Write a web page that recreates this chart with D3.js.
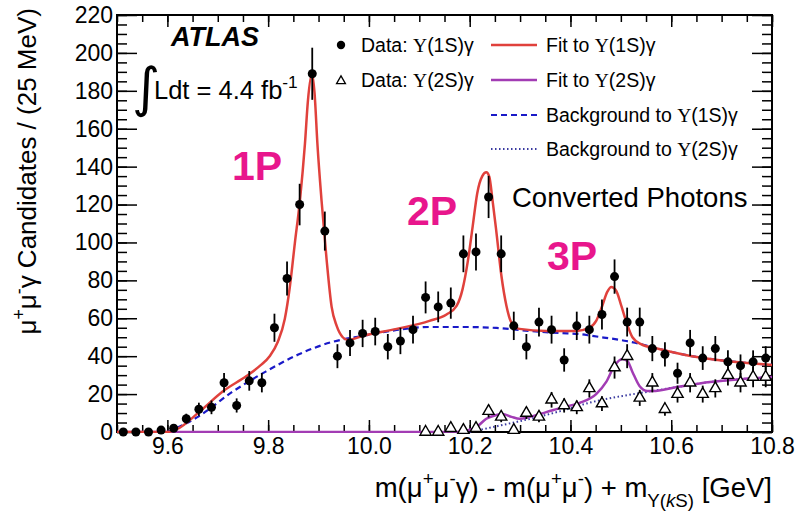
<!DOCTYPE html>
<html>
<head>
<meta charset="utf-8">
<script src="https://cdn.jsdelivr.net/npm/d3@7"></script>
<style>
  body { margin: 0; background: #fff; }
  svg { display: block; }
  text { font-family: "Liberation Sans", Arial, Helvetica, sans-serif; fill: #000; }
</style>
</head>
<body>
<div id="chart"></div>
<script>
// bin centres (25 MeV bins) and counts
var bins1S = [9.5125, 9.5375, 9.5625, 9.5875, 9.6125, 9.6375, 9.6625, 9.6875, 9.7125, 9.7375,
    9.7625, 9.7875, 9.8125, 9.8375, 9.8625, 9.8875, 9.9125, 9.9375, 9.9625, 9.9875,
    10.0125, 10.0375, 10.0625, 10.0875, 10.1125, 10.1375, 10.1625, 10.1875, 10.2125, 10.2375,
    10.2625, 10.2875, 10.3125, 10.3375, 10.3625, 10.3875, 10.4125, 10.4375, 10.4625, 10.4875,
    10.5125, 10.5375, 10.5625, 10.5875, 10.6125, 10.6375, 10.6625, 10.6875, 10.7125, 10.7375,
    10.7625, 10.7875];
var counts1S = [0, 0, 0, 1, 2, 7, 12, 13, 26, 14,
    27, 26, 55, 81, 120, 189, 106, 40, 47, 52,
    53, 45, 48, 54, 71, 66, 68, 94, 95, 124,
    94, 56, 45, 58, 54, 38, 56, 54, 62, 82,
    58, 58, 44, 41, 31, 47, 39, 44, 37, 35,
    37, 39];

var bins2S = [10.1125, 10.1375, 10.1625, 10.1875, 10.2125, 10.2375, 10.2625, 10.2875, 10.3125, 10.3375,
    10.3625, 10.3875, 10.4125, 10.4375, 10.4625, 10.4875, 10.5125, 10.5375, 10.5625, 10.5875,
    10.6125, 10.6375, 10.6625, 10.6875, 10.7125, 10.7375, 10.7625, 10.7875];
var counts2S = [0, 0, 2, 1, 2, 11, 8, 1, 10, 8,
    17, 14, 13, 23, 15, 34, 40, 18, 26, 12,
    20, 26, 20, 23, 30, 26, 29, 29];

// fit curves
var fit1S = [[9.5, 0], [9.6, 0], [9.619, 1.5], [9.665, 11], [9.711, 21.6], [9.757, 29.5], [9.784, 35],
    [9.803, 40], [9.819, 47.5], [9.833, 59.6], [9.843, 76.5], [9.853, 99.7], [9.863, 122], [9.873, 152],
    [9.879, 175], [9.887, 189], [9.892, 179], [9.898, 151], [9.906, 122], [9.916, 91], [9.926, 66],
    [9.936, 56], [9.948, 50], [9.958, 48.5], [9.988, 50.7], [10.055, 54.4], [10.12, 58.6], [10.154, 62],
    [10.174, 66.5], [10.186, 75.5], [10.196, 89.6], [10.206, 108.6], [10.215, 126], [10.225, 135],
    [10.233, 137], [10.239, 134.6], [10.245, 123], [10.253, 105.5], [10.263, 82.3], [10.273, 66.5],
    [10.283, 57.6], [10.299, 54.4], [10.352, 53.3], [10.412, 53.3], [10.437, 54.9], [10.451, 58.6],
    [10.463, 66.5], [10.473, 73.9], [10.481, 76.5], [10.491, 74.4], [10.501, 66.5], [10.511, 58],
    [10.523, 50], [10.54, 46.4], [10.576, 43.8], [10.641, 40], [10.709, 37.5], [10.8, 35.4]];
var bkg1S = [[9.601, 0], [9.663, 8.4], [9.728, 21], [9.796, 32], [9.861, 41], [9.927, 47.5],
    [9.988, 50.7], [10.055, 53.8], [10.12, 55.4], [10.186, 55.4], [10.253, 54.9], [10.319, 53.3],
    [10.378, 52.2], [10.418, 51.7], [10.443, 50.7], [10.511, 48], [10.54, 46.4], [10.576, 43.8],
    [10.641, 40], [10.709, 37.5], [10.8, 35.4]];
var fit2S = [[9.5, 0], [10.174, 0], [10.213, 2.6], [10.233, 7], [10.253, 9], [10.265, 9.5],
    [10.283, 8], [10.299, 7], [10.319, 8], [10.352, 10.5], [10.384, 13], [10.418, 15.3],
    [10.451, 20], [10.471, 26.4], [10.487, 34.8], [10.503, 38.5], [10.513, 37.5], [10.523, 31.7],
    [10.537, 24.3], [10.553, 21.6], [10.563, 21.6], [10.611, 23.7], [10.677, 26.4], [10.743, 28], [10.8, 29]];
var bkg2S = [[10.2, 0], [10.253, 3], [10.319, 6.9], [10.38, 11], [10.443, 15.8], [10.503, 19],
    [10.553, 21.2], [10.611, 23.7], [10.677, 26.4], [10.743, 28], [10.8, 29]];

var xMajor = [9.6, 9.8, 10.0, 10.2, 10.4, 10.6, 10.8];
var xLabels = ["9.6", "9.8", "10.0", "10.2", "10.4", "10.6", "10.8"];
var yMajor = [0, 20, 40, 60, 80, 100, 120, 140, 160, 180, 200, 220];

drawChart();

function drawChart() {
    var W = 800, H = 511;
    var pl = 117, pr = 772, pt = 15, pb = 432;

    var svg = d3.select("#chart").append("svg")
        .attr("width", W)
        .attr("height", H);

    var x = d3.scaleLinear().domain([9.5, 10.8]).range([pl, pr]);
    var y = d3.scaleLinear().domain([0, 220]).range([pb, pt]);

    var tickFont = 23;

    // text with sub/superscripts
    function rich(sel, parts, size) {
        var t = sel.append("text").attr("font-size", size);
        var shift = 0;
        parts.forEach(function (p) {
            var target = p.s === 1 ? -size * 0.42 : (p.s === -1 ? size * 0.35 : 0);
            t.append("tspan")
                .attr("dy", target - shift)
                .attr("font-size", p.s ? size * 0.68 : size)
                .attr("font-style", p.i ? "italic" : null)
                .style("font-family", p.f || null)
                .text(p.t);
            shift = target;
        });
        return t;
    }

    // axes (ticks point inward, ROOT style)
    function styleAxis(g) {
        g.select(".domain").remove();
        g.selectAll("line").attr("stroke", "#000").attr("stroke-width", 1.5);
        g.selectAll("text").attr("font-size", tickFont).style("font-family", "Liberation Sans, Arial, sans-serif");
    }

    var xMinor = d3.range(9.5, 10.801, 0.05);
    var yMinor = d3.range(0, 221, 5);

    svg.append("g")
        .attr("transform", "translate(0," + pb + ")")
        .call(d3.axisBottom(x).tickValues(xMinor).tickSize(-7).tickFormat(""))
        .call(styleAxis);
    svg.append("g")
        .attr("transform", "translate(0," + pb + ")")
        .call(d3.axisBottom(x).tickValues(xMajor).tickSize(-12).tickPadding(6)
            .tickFormat(function (d, i) { return xLabels[i]; }))
        .call(styleAxis);
    svg.append("g")
        .attr("transform", "translate(0," + pt + ")")
        .call(d3.axisTop(x).tickValues(xMinor).tickSize(-7).tickFormat(""))
        .call(styleAxis);
    svg.append("g")
        .attr("transform", "translate(0," + pt + ")")
        .call(d3.axisTop(x).tickValues(xMajor).tickSize(-12).tickFormat(""))
        .call(styleAxis);

    svg.append("g")
        .attr("transform", "translate(" + pl + ",0)")
        .call(d3.axisLeft(y).tickValues(yMinor).tickSize(-10).tickFormat(""))
        .call(styleAxis);
    svg.append("g")
        .attr("transform", "translate(" + pl + ",0)")
        .call(d3.axisLeft(y).tickValues(yMajor).tickSize(-20).tickPadding(4))
        .call(styleAxis);
    svg.append("g")
        .attr("transform", "translate(" + pr + ",0)")
        .call(d3.axisRight(y).tickValues(yMinor).tickSize(-10).tickFormat(""))
        .call(styleAxis);
    svg.append("g")
        .attr("transform", "translate(" + pr + ",0)")
        .call(d3.axisRight(y).tickValues(yMajor).tickSize(-20).tickFormat(""))
        .call(styleAxis);

    svg.append("rect")
        .attr("x", pl).attr("y", pt)
        .attr("width", pr - pl).attr("height", pb - pt)
        .attr("fill", "none").attr("stroke", "#000").attr("stroke-width", 2);

    // curves
    svg.append("clipPath").attr("id", "clip")
        .append("rect").attr("x", pl).attr("y", pt - 2)
        .attr("width", pr - pl).attr("height", pb - pt + 3);

    var line = d3.line()
        .x(function (d) { return x(d[0]); })
        .y(function (d) { return y(d[1]); })
        .curve(d3.curveMonotoneX);

    var curves = svg.append("g").attr("clip-path", "url(#clip)");
    curves.append("path").attr("d", line(bkg2S))
        .attr("fill", "none").attr("stroke", "#3a3aa0").attr("stroke-width", 2).attr("stroke-dasharray", "1.5,2.5");
    curves.append("path").attr("d", line(fit2S))
        .attr("fill", "none").attr("stroke", "#a23cb4").attr("stroke-width", 2.5);
    curves.append("path").attr("d", line(bkg1S))
        .attr("fill", "none").attr("stroke", "#1a1ac8").attr("stroke-width", 2.2).attr("stroke-dasharray", "6,4");
    curves.append("path").attr("d", line(fit1S))
        .attr("fill", "none").attr("stroke", "#e0413c").attr("stroke-width", 2.5);

    // data points with sqrt(N) error bars
    var pts1 = bins1S.map(function (b, i) { return {x: b, y: counts1S[i]}; });
    var pts2 = bins2S.map(function (b, i) { return {x: b, y: counts2S[i]}; });

    function errorBars(data) {
        svg.append("g").selectAll("line")
            .data(data.filter(function (d) { return d.y > 0; }))
            .enter().append("line")
            .attr("x1", function (d) { return x(d.x); })
            .attr("x2", function (d) { return x(d.x); })
            .attr("y1", function (d) { return y(d.y - Math.sqrt(d.y)); })
            .attr("y2", function (d) { return y(d.y + Math.sqrt(d.y)); })
            .attr("stroke", "#000").attr("stroke-width", 1.8);
    }
    errorBars(pts2);
    errorBars(pts1);

    var tri = d3.symbol().type(d3.symbolTriangle).size(55);
    svg.append("g").selectAll("path")
        .data(pts2)
        .enter().append("path")
        .attr("d", tri)
        .attr("transform", function (d) { return "translate(" + x(d.x) + "," + y(d.y) + ")"; })
        .attr("fill", "#fff").attr("stroke", "#000").attr("stroke-width", 1.4);

    svg.append("g").selectAll("circle")
        .data(pts1)
        .enter().append("circle")
        .attr("cx", function (d) { return x(d.x); })
        .attr("cy", function (d) { return y(d.y); })
        .attr("r", 4.5)
        .attr("fill", "#000");

    // legend
    var lg = svg.append("g");
    var legFont = 19.5;
    var ups = {t: "\u03A5", f: "Liberation Serif"};
    lg.append("circle").attr("cx", 341).attr("cy", 45).attr("r", 4.2).attr("fill", "#000");
    rich(lg, [{t: "Data: "}, ups, {t: "(1S)\u03B3"}], legFont).attr("x", 361).attr("y", 52);
    lg.append("path").attr("d", d3.symbol().type(d3.symbolTriangle).size(34)).attr("transform", "translate(341,81)")
        .attr("fill", "#fff").attr("stroke", "#000").attr("stroke-width", 1.3);
    rich(lg, [{t: "Data: "}, ups, {t: "(2S)\u03B3"}], legFont).attr("x", 361).attr("y", 87);

    var legLines = [
        {y: 45, color: "#e0413c", w: 2.5, dash: null, parts: [{t: "Fit to "}, ups, {t: "(1S)\u03B3"}]},
        {y: 80, color: "#a23cb4", w: 2.5, dash: null, parts: [{t: "Fit to "}, ups, {t: "(2S)\u03B3"}]},
        {y: 115, color: "#1a1ac8", w: 2.2, dash: "6,4", parts: [{t: "Background to "}, ups, {t: "(1S)\u03B3"}]},
        {y: 149, color: "#3a3aa0", w: 2, dash: "1.5,2.5", parts: [{t: "Background to "}, ups, {t: "(2S)\u03B3"}]}
    ];
    legLines.forEach(function (d) {
        lg.append("line").attr("x1", 491).attr("x2", 537).attr("y1", d.y).attr("y2", d.y)
            .attr("stroke", d.color).attr("stroke-width", d.w).attr("stroke-dasharray", d.dash);
        rich(lg, d.parts, legFont).attr("x", 546).attr("y", d.y + 7);
    });

    // ATLAS label and luminosity
    svg.append("text").attr("x", 171).attr("y", 46)
        .attr("font-size", 27).attr("font-weight", "bold").attr("font-style", "italic")
        .text("ATLAS");
    svg.append("text").attr("x", 132).attr("y", 106)
        .attr("font-size", 54).style("font-family", "DejaVu Sans")
        .text("\u222B");
    rich(svg, [{t: "Ldt = 4.4 fb"}, {t: "-1", s: 1}], 25.5).attr("x", 154).attr("y", 99);

    svg.append("text").attr("x", 512).attr("y", 207)
        .attr("font-size", 27.5)
        .text("Converted Photons");

    // peak labels
    var peaks = [{t: "1P", x: 232, y: 180}, {t: "2P", x: 407, y: 225}, {t: "3P", x: 547, y: 270}];
    svg.selectAll(".peak").data(peaks).enter().append("text")
        .attr("class", "peak")
        .attr("x", function (d) { return d.x; })
        .attr("y", function (d) { return d.y; })
        .attr("font-size", 41).attr("font-weight", "bold")
        .style("fill", "#e8168c")
        .text(function (d) { return d.t; });

    // axis titles
    rich(svg, [{t: "m(\u03BC"}, {t: "+", s: 1}, {t: "\u03BC"}, {t: "-", s: 1}, {t: "\u03B3) - m(\u03BC"},
        {t: "+", s: 1}, {t: "\u03BC"}, {t: "-", s: 1}, {t: ") + m"},
        {t: "\u03A5(", s: -1}, {t: "k", s: -1, i: true}, {t: "S)", s: -1}, {t: " [GeV]"}], 27.5)
        .attr("x", 772).attr("y", 497).attr("text-anchor", "end");

    rich(svg, [{t: "\u03BC"}, {t: "+", s: 1}, {t: "\u03BC"}, {t: "-", s: 1}, {t: "\u03B3 Candidates / (25 MeV)"}], 26)
        .attr("text-anchor", "end")
        .attr("transform", "translate(36,8) rotate(-90)");
}
</script>
</body>
</html>
